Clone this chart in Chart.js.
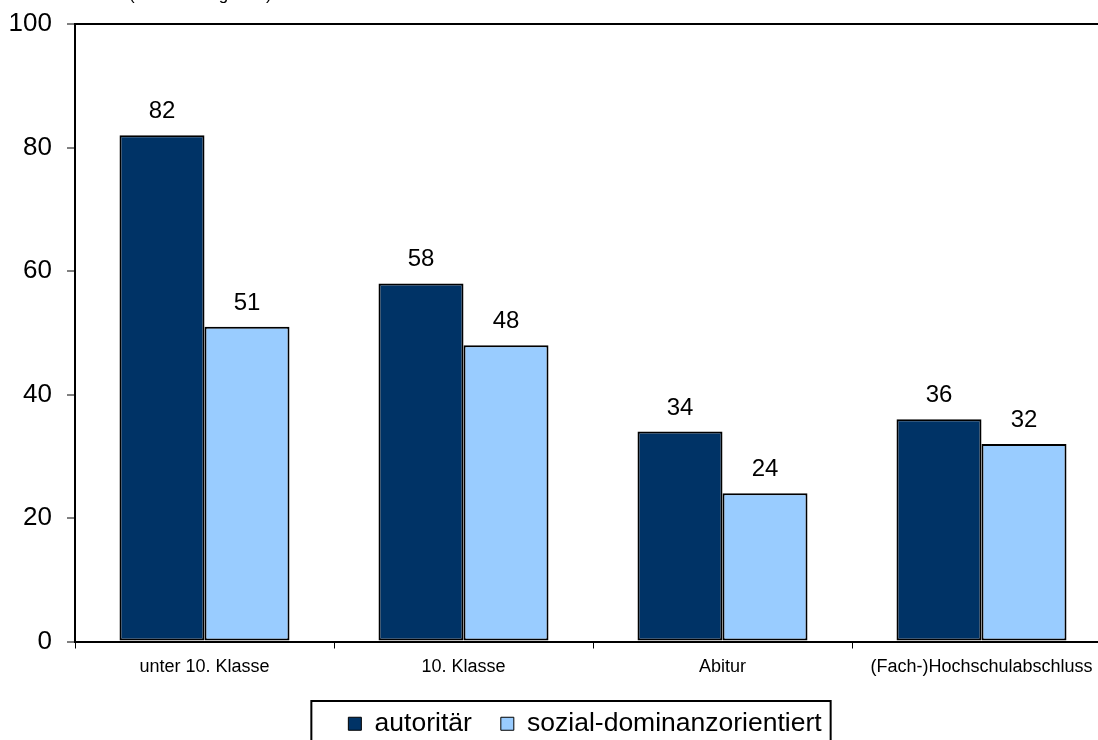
<!DOCTYPE html>
<html>
<head>
<meta charset="utf-8">
<script src="https://cdn.jsdelivr.net/npm/chart.js@4"></script>
<style>
html,body{margin:0;padding:0;overflow:hidden;background:#fff;width:1098px;height:740px}
#wrap{position:absolute;left:0;top:0;width:1131px;height:747px}
</style>
</head>
<body>
<div id="wrap"><canvas id="c" width="1131" height="747"></canvas></div>
<script>
const categories = ['unter 10. Klasse', '10. Klasse', 'Abitur', '(Fach-)Hochschulabschluss'];
const seriesNames = ['autoritär', 'sozial-dominanzorientiert'];
const autoritaer = [82, 58, 34, 36];
const sozialDominanz = [51, 48, 24, 32];
const yTicks = [0, 20, 40, 60, 80, 100];
const subtitle = '(Zustimmung in %)';

const FONT = '"Liberation Sans", Arial, Helvetica, sans-serif';
Chart.defaults.font.family = FONT;
Chart.defaults.color = '#000';

const valueLabels = {
  id: 'valueLabels',
  afterDatasetsDraw(chart) {
    const ctx = chart.ctx;
    ctx.save();
    ctx.font = '24px ' + FONT;
    ctx.fillStyle = '#000';
    ctx.textAlign = 'center';
    ctx.textBaseline = 'alphabetic';
    chart.data.datasets.forEach((ds, i) => {
      chart.getDatasetMeta(i).data.forEach((bar, j) => {
        ctx.fillText(String(ds.data[j]), bar.x, bar.y - 17);
      });
    });
    ctx.restore();
  }
};

const legendShift = {
  id: 'legendShift',
  afterLayout(chart) {
    const lg = chart.legend;
    if (!lg) return;
    lg.left += 29.5;
    lg.right += 29.5;
  }
};

const legendFrame = {
  id: 'legendFrame',
  afterDraw(chart) {
    const lg = chart.legend;
    if (!lg || !lg.legendHitBoxes || !lg.legendHitBoxes.length) return;
    const hb = lg.legendHitBoxes;
    const first = hb[0], last = hb[hb.length - 1];
    const ctx = chart.ctx;
    ctx.save();
    ctx.strokeStyle = '#000';
    ctx.lineWidth = 2;
    const x0 = first.left - 37, x1 = last.left + last.width + 9;
    const y0 = Math.round(first.top - 10), y1 = first.top + first.height + 40;
    ctx.strokeRect(x0, y0, x1 - x0, y1 - y0);
    ctx.restore();
  }
};

const clippedTitle = {
  id: 'clippedTitle',
  afterDraw(chart) {
    const ctx = chart.ctx;
    ctx.save();
    ctx.font = '17px ' + FONT;
    ctx.fillStyle = '#000';
    ctx.textAlign = 'left';
    ctx.textBaseline = 'alphabetic';
    ctx.fillText(subtitle, 129, -0.5);
    ctx.restore();
  }
};

new Chart(document.getElementById('c'), {
  type: 'bar',
  data: {
    labels: categories,
    datasets: [
      { label: seriesNames[0], data: autoritaer, backgroundColor: '#003366', borderColor: '#000', borderWidth: 2, borderSkipped: false },
      { label: seriesNames[1], data: sozialDominanz, backgroundColor: '#99CCFF', borderColor: '#000', borderWidth: 2, borderSkipped: false }
    ]
  },
  options: {
    responsive: false,
    animation: false,
    devicePixelRatio: 1,
    categoryPercentage: 0.6564,
    barPercentage: 1,
    layout: { padding: { left: 0, right: 20, top: 24, bottom: 0 } },
    plugins: {
      tooltip: { enabled: false },
      title: { display: false },
      legend: {
        display: true,
        position: 'bottom',
        labels: {
          boxWidth: 13,
          boxHeight: 13,
          padding: 29,
          color: '#000',
          font: { size: 26.5 },
          generateLabels(chart) {
            const items = Chart.defaults.plugins.legend.labels.generateLabels(chart);
            items.forEach(it => { it.lineWidth = 1; it.strokeStyle = '#000'; });
            return items;
          }
        }
      }
    },
    scales: {
      x: {
        grid: { display: true, drawOnChartArea: false, drawTicks: true, tickLength: 7, tickColor: '#000', tickWidth: 1, offset: true },
        border: { display: true, color: '#000', width: 2 },
        ticks: { font: { size: 18 }, color: '#000', padding: 7.6, maxRotation: 0, autoSkip: false },
        afterFit(s) { s.height = 40; }
      },
      y: {
        min: 0,
        max: 100,
        afterBuildTicks(s) { s.ticks = yTicks.map(v => ({ value: v })); },
        grid: {
          color: c => (c.tick && c.tick.value === 100) ? '#000' : 'rgba(0,0,0,0)',
          lineWidth: 2,
          drawTicks: true,
          tickLength: 8,
          tickColor: '#000',
          tickWidth: 1
        },
        border: { display: true, color: '#000', width: 2 },
        ticks: { font: { size: 26, lineHeight: 0.7 }, color: '#000', padding: 15 },
        afterFit(s) { s.width = 75; }
      }
    }
  },
  plugins: [legendShift, valueLabels, legendFrame, clippedTitle]
});
</script>
</body>
</html>
